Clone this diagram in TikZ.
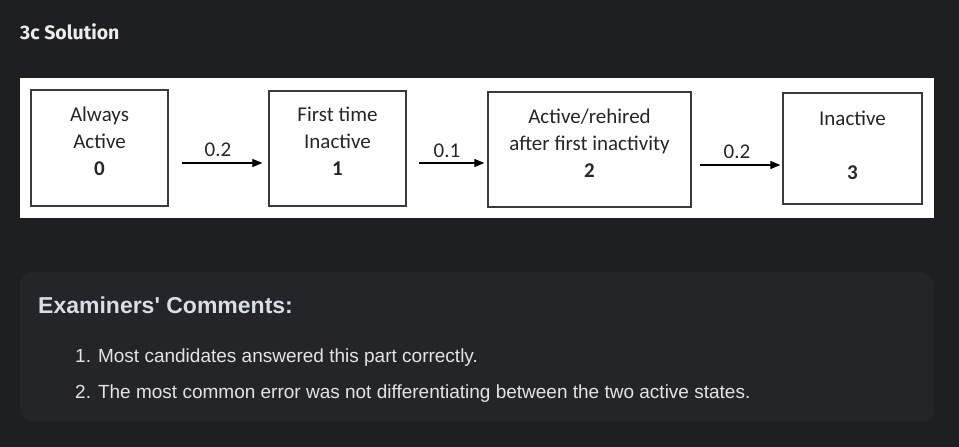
\documentclass[tikz,border=0pt]{standalone}
\usepackage{fontspec}
\setmainfont{Liberation Sans}
\newfontfamily\headfont{Liberation Sans}[Ligatures=TeXOff]
\newfontfamily\boxfont{Carlito}
\newfontfamily\titlefont{Fira Sans}
\usetikzlibrary{arrows.meta,calc}
\definecolor{pagebg}{HTML}{1E1F21}
\definecolor{cardbg}{HTML}{242528}
\definecolor{titlecol}{HTML}{EDEDED}
\definecolor{headcol}{HTML}{D9DEE6}
\definecolor{listcol}{HTML}{E4E4E4}
\definecolor{boxline}{HTML}{3A3A3A}
\definecolor{boxtext}{HTML}{262626}
\tikzset{
  statebox/.style={draw=boxline, line width=1.3pt, fill=white, inner sep=0pt},
  statetext/.style={align=center, text=boxtext, inner sep=0pt,
    font=\boxfont\fontsize{21}{27}\selectfont},
  problabel/.style={text=boxtext, inner sep=0pt, font=\boxfont\fontsize{21}{24}\selectfont},
  arr/.style={draw=black, line width=1.2pt, -{Triangle[length=10pt,width=8pt]}},
  plaintext/.style={anchor=base west, inner sep=0pt},
}
\begin{document}
\begin{tikzpicture}[x=1pt,y=-1pt]
\useasboundingbox (0,0) rectangle (959,447);
\fill[pagebg] (0,0) rectangle (959,447);
% title
\node[plaintext, text=titlecol, font=\titlefont\bfseries\fontsize{19.5}{22}\selectfont] (title) at (20,39) {3c Solution};
% white panel
\fill[white] (20,78) rectangle (934,218);
% boxes
\node[statebox, minimum width=137pt, minimum height=116pt] (b0) at (99.5,148) {};
\node[statebox, minimum width=137pt, minimum height=115pt] (b1) at (337.5,148.5) {};
\node[statebox, minimum width=203pt, minimum height=115pt] (b2) at (589.5,149.5) {};
\node[statebox, minimum width=139pt, minimum height=111pt] (b3) at (852.5,148.5) {};
% box texts
\node[statetext] (t0) at (99.5,141) {Always\\Active\\\textbf{0}};
\node[statetext] (t1) at (337.5,141) {First time\\Inactive\\\textbf{1}};
\node[statetext] (t2) at (589.5,143) {Active/rehired\\after first inactivity\\\textbf{2}};
\node[statetext] (t3) at (852.5,145) {Inactive\\[27pt]\textbf{3}};
% arrows
\draw[arr] ($(b0.east)+(13,15)$) -- ($(b1.west)+(-6,14.5)$);
\draw[arr] ($(b1.east)+(12,14.5)$) -- ($(b2.west)+(-3,13.5)$);
\draw[arr] ($(b2.east)+(8,15.5)$) -- ($(b3.west)+(-2,16.5)$);
% arrow labels
\node[problabel] (p01) at (218,150) {0.2};
\node[problabel] (p12) at (447,151) {0.1};
\node[problabel] (p23) at (737,152) {0.2};
% comments card
\fill[cardbg, rounded corners=14pt] (20,272) rectangle (934,422);
\node[plaintext, text=headcol, font=\headfont\bfseries\fontsize{23}{26}\selectfont] (head) at (38,313) {Examiners' Comments:};
\node[plaintext, text=listcol, font=\fontsize{19}{22}\selectfont] (l1) at (75,362) {1. Most candidates answered this part correctly.};
\node[plaintext, text=listcol, font=\fontsize{19}{22}\selectfont] (l2) at (75,398) {2. The most common error was not differentiating between the two active states.};
\end{tikzpicture}
\end{document}
